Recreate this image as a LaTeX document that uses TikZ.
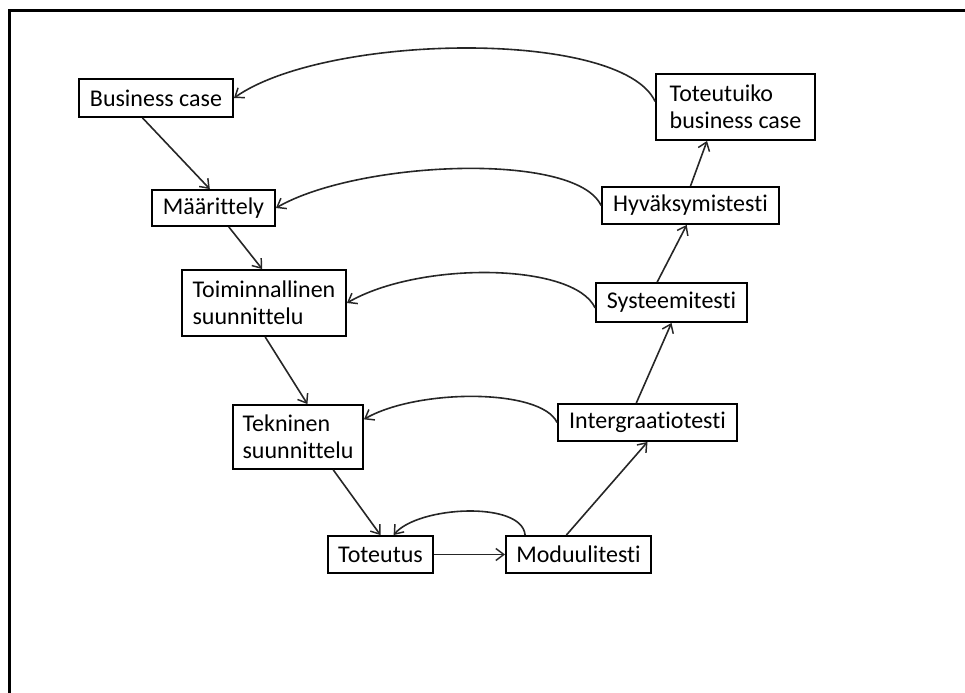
\documentclass[tikz,border=0pt]{standalone}
\usepackage{fontspec}
\setmainfont{Carlito}[Ligatures={NoCommon}]
\usetikzlibrary{arrows.meta}

\begin{document}
\begin{tikzpicture}[x=0.75pt,y=-0.75pt,
  stage/.style={draw=black, line width=1.4pt, fill=white, inner sep=0pt,
    align=left, font=\fontsize{18pt}{20.25pt}\selectfont},
  flow/.style={draw=black!85, line width=1.2pt,
    -{Straight Barb[length=6pt,width=9pt,line width=1.1pt]}},
  back/.style={flow}
]
\useasboundingbox (0,0) rectangle (965,693);

% page frame (top and left edges)
\draw[line width=1.9pt] (9.5,693) -- (9.5,10.5) -- (965,10.5);

% left branch: specification and design
\node[stage, minimum width=115.5pt, minimum height=28.5pt] (bc)   at (156,98)    {Business case};
\node[stage, minimum width=92.25pt, minimum height=27pt]   (maar) at (213.5,208) {Määrittely};
\node[stage, minimum width=123pt,   minimum height=49.5pt] (toim) at (264,303)   {Toiminnallinen\\suunnittelu};
\node[stage, minimum width=97.5pt,  minimum height=48pt]   (tek)  at (298,437)   {Tekninen\\suunnittelu};
\node[stage, minimum width=78.75pt, minimum height=27.75pt] (tot) at (380.5,554.5) {Toteutus};

% right branch: testing
\node[stage, minimum width=108.75pt, minimum height=27.75pt] (mod) at (578.5,554.5) {Moduulitesti};
\node[stage, minimum width=134.25pt, minimum height=27.75pt] (int) at (647.5,422.5) {Intergraatiotesti};
\node[stage, minimum width=113.25pt, minimum height=29.25pt] (sys) at (671.5,302.5) {Systeemitesti};
\node[stage, minimum width=132.75pt, minimum height=27.75pt] (hyv) at (690.5,205.5) {Hyväksymistesti};
\node[stage, minimum width=119.25pt, minimum height=49.5pt]  (tbc) at (735.5,107)   {Toteutuiko\\business case};

% down the V
\draw[flow] (bc.236)   -- (maar.101);
\draw[flow] (maar.309) -- (toim.93);
\draw[flow] (toim.272) -- (tek.74);
\draw[flow] (tek.317)  -- (tot.north);
\draw[flow] (tot.east) -- (mod.west);

% up the V
\draw[flow] (mod.122) -- (int.south);
\draw[flow] (int.120) -- (sys.south);
\draw[flow] (sys.125) -- (hyv.259);
\draw[flow] (hyv.north) -- (tbc.230);

% feedback arcs
\draw[back] (tbc.176) to[out=115,in=35,out distance=60pt,in distance=85pt] (bc.east);
\draw[back] (hyv.west) to[out=115,in=30,out distance=45pt,in distance=71pt] (maar.east);
\draw[back] (sys.184) to[out=115,in=30,out distance=37.5pt,in distance=63pt] (toim.east);
\draw[back] (int.west) to[out=115,in=30,out distance=28.5pt,in distance=46pt] (tek.15);
\draw[back] (mod.160) to[out=95,in=50,out distance=26pt,in distance=28.5pt] (tot.56);
\end{tikzpicture}
\end{document}
